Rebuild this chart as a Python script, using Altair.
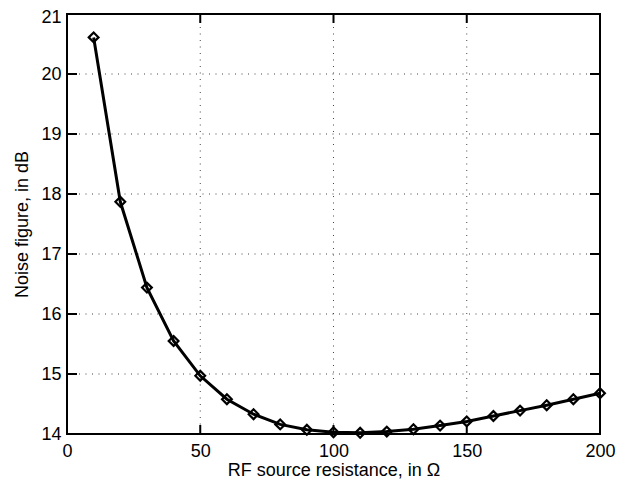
import altair as alt
import pandas as pd

resistance = [10, 20, 30, 40, 50, 60, 70, 80, 90, 100,
              110, 120, 130, 140, 150, 160, 170, 180, 190, 200]
noise_figure = [20.61, 17.87, 16.44, 15.55, 14.97, 14.58, 14.33, 14.16, 14.07, 14.03,
                14.02, 14.04, 14.08, 14.14, 14.21, 14.30, 14.39, 14.48, 14.58, 14.68]
x_ticks = [0, 50, 100, 150, 200]
y_ticks = [14, 15, 16, 17, 18, 19, 20, 21]

df = pd.DataFrame({"r": resistance, "nf": noise_figure})
xt = pd.DataFrame({"x": x_ticks})
yt = pd.DataFrame({"y": y_ticks})

W, H = 533, 420
FONT = "Liberation Sans"

xscale = alt.Scale(domain=[0, 200], nice=False, zero=False)
yscale = alt.Scale(domain=[14, 21], nice=False, zero=False)

xaxis = alt.Axis(values=x_ticks, format="d", title="RF source resistance, in Ω", grid=False,
                 tickSize=0, domain=False, labelPadding=8, titlePadding=1,
                 labelFontSize=18, titleFontSize=18, labelFont=FONT, titleFont=FONT,
                 labelColor="black", titleColor="black", titleFontWeight="normal",
                 labelFlush=False)
yaxis = alt.Axis(values=y_ticks, format="d", title="Noise figure, in dB", grid=False,
                 tickSize=0, domain=False, labelPadding=6, titlePadding=9,
                 labelOffset={"condition": {"test": "datum.value == 21", "value": 3}, "value": 0},
                 labelFontSize=18, titleFontSize=18, labelFont=FONT, titleFont=FONT,
                 labelColor="black", titleColor="black", titleFontWeight="normal",
                 labelFlush=False)

grid_dash = [1, 5.5]

xgrid = alt.Chart(xt).transform_filter("datum.x > 0 && datum.x < 200").mark_rule(
    color="#444", strokeWidth=1, strokeDash=grid_dash
).encode(x=alt.X("x:Q", scale=xscale, axis=xaxis))

ygrid = alt.Chart(yt).transform_filter("datum.y > 14 && datum.y < 21").mark_rule(
    color="#444", strokeWidth=1, strokeDash=grid_dash
).encode(y=alt.Y("y:Q", scale=yscale, axis=yaxis))

# inward ticks (MATLAB style)
tick_y_left = alt.Chart(yt).mark_rule(color="black", strokeWidth=2).encode(
    y=alt.Y("y:Q", scale=yscale), x=alt.value(0), x2=alt.value(10))
tick_y_right = alt.Chart(yt).mark_rule(color="black", strokeWidth=2).encode(
    y=alt.Y("y:Q", scale=yscale), x=alt.value(W - 10), x2=alt.value(W))
tick_x_bottom = alt.Chart(xt).mark_rule(color="black", strokeWidth=2).encode(
    x=alt.X("x:Q", scale=xscale), y=alt.value(H), y2=alt.value(H - 9))
tick_x_top = alt.Chart(xt).mark_rule(color="black", strokeWidth=2).encode(
    x=alt.X("x:Q", scale=xscale), y=alt.value(0), y2=alt.value(9))

line = alt.Chart(df).mark_line(color="black", strokeWidth=3).encode(
    x=alt.X("r:Q", scale=xscale), y=alt.Y("nf:Q", scale=yscale))
pts = alt.Chart(df).mark_point(shape="diamond", size=95, color="black",
                               filled=False, strokeWidth=2.2, opacity=1).encode(
    x=alt.X("r:Q", scale=xscale), y=alt.Y("nf:Q", scale=yscale))

chart = alt.layer(xgrid, ygrid, tick_y_left, tick_y_right, tick_x_bottom, tick_x_top,
                  line, pts).properties(
    width=W, height=H,
    autosize=alt.AutoSizeParams(type="none"),
    padding={"left": 59, "top": 6, "right": 18, "bottom": 50},
    background="white",
).configure_view(stroke="black", strokeWidth=2)

chart.save("out.html", embed_options={"renderer": "svg", "actions": False})
